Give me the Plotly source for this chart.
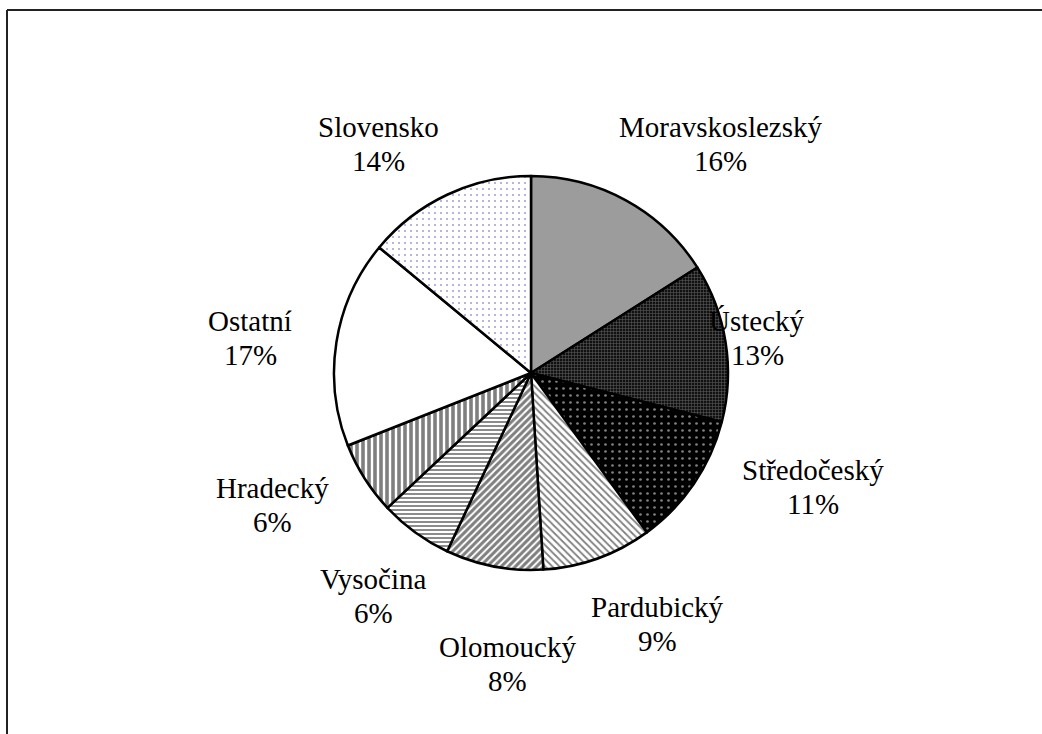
import plotly.graph_objects as go

labels = ["Moravskoslezský", "Ústecký", "Středočeský", "Pardubický", "Olomoucký",
          "Vysočina", "Hradecký", "Ostatní", "Slovensko"]
values = [16, 13, 11, 9, 8, 6, 6, 17, 14]

# label positions in pixels: (x center, y of first line center)
label_px = [(720, 127), (757, 321), (813, 470), (657, 607), (507, 647),
            (373, 579), (272, 488), (250, 321), (378, 127)]
line_gap = 34

shapes_p = ["", "+", ".", "\\", "/", "-", "|", "", "."]
fg = ["black", "#a0a0a0", "white", "black", "black", "black", "black", "black", "#4a4aa8"]
bg = ["#9c9c9c", "#111111", "black", "white", "white", "white", "white", "white", "white"]
sizes = [4, 3, 7, 5, 5, 4, 6, 4, 6]
solid = [0.3, 0.35, 0.12, 0.35, 0.6, 0.45, 0.6, 0.3, 0.1]

W, H = 1042, 734
cx, cy, r = 531, 373, 197

fig = go.Figure(go.Pie(
    labels=labels, values=values, sort=False, direction="clockwise", rotation=0,
    textinfo="none", hoverinfo="label+percent",
    marker=dict(colors=bg, line=dict(color="black", width=2.5),
                pattern=dict(shape=shapes_p, fgcolor=fg, bgcolor=bg, size=sizes,
                             solidity=solid, fillmode="overlay")),
    domain=dict(x=[(cx - r) / W, (cx + r) / W], y=[1 - (cy + r) / H, 1 - (cy - r) / H]),
    showlegend=False,
))

annotations = []
font = dict(family="Liberation Serif", size=29, color="black")
for lab, v, (x, y) in zip(labels, values, label_px):
    annotations.append(dict(x=x / W, y=1 - y / H, xref="paper", yref="paper",
                            text=lab, showarrow=False, font=font,
                            xanchor="center", yanchor="middle"))
    annotations.append(dict(x=x / W, y=1 - (y + line_gap) / H, xref="paper", yref="paper",
                            text=f"{v}%", showarrow=False, font=font,
                            xanchor="center", yanchor="middle"))

fig.update_layout(
    width=W, height=H, margin=dict(l=0, r=0, t=0, b=0),
    paper_bgcolor="white", plot_bgcolor="white",
    annotations=annotations,
    shapes=[
        dict(type="line", xref="paper", yref="paper", x0=7 / W, x1=7 / W, y0=0, y1=1 - 10 / H,
             line=dict(color="#222", width=2)),
        dict(type="line", xref="paper", yref="paper", x0=7 / W, x1=1, y0=1 - 10 / H, y1=1 - 10 / H,
             line=dict(color="#222", width=2)),
    ],
)

fig.write_html("out.html", config={"displayModeBar": False},
               post_script="document.body.style.margin='0';document.body.style.overflow='hidden';")
